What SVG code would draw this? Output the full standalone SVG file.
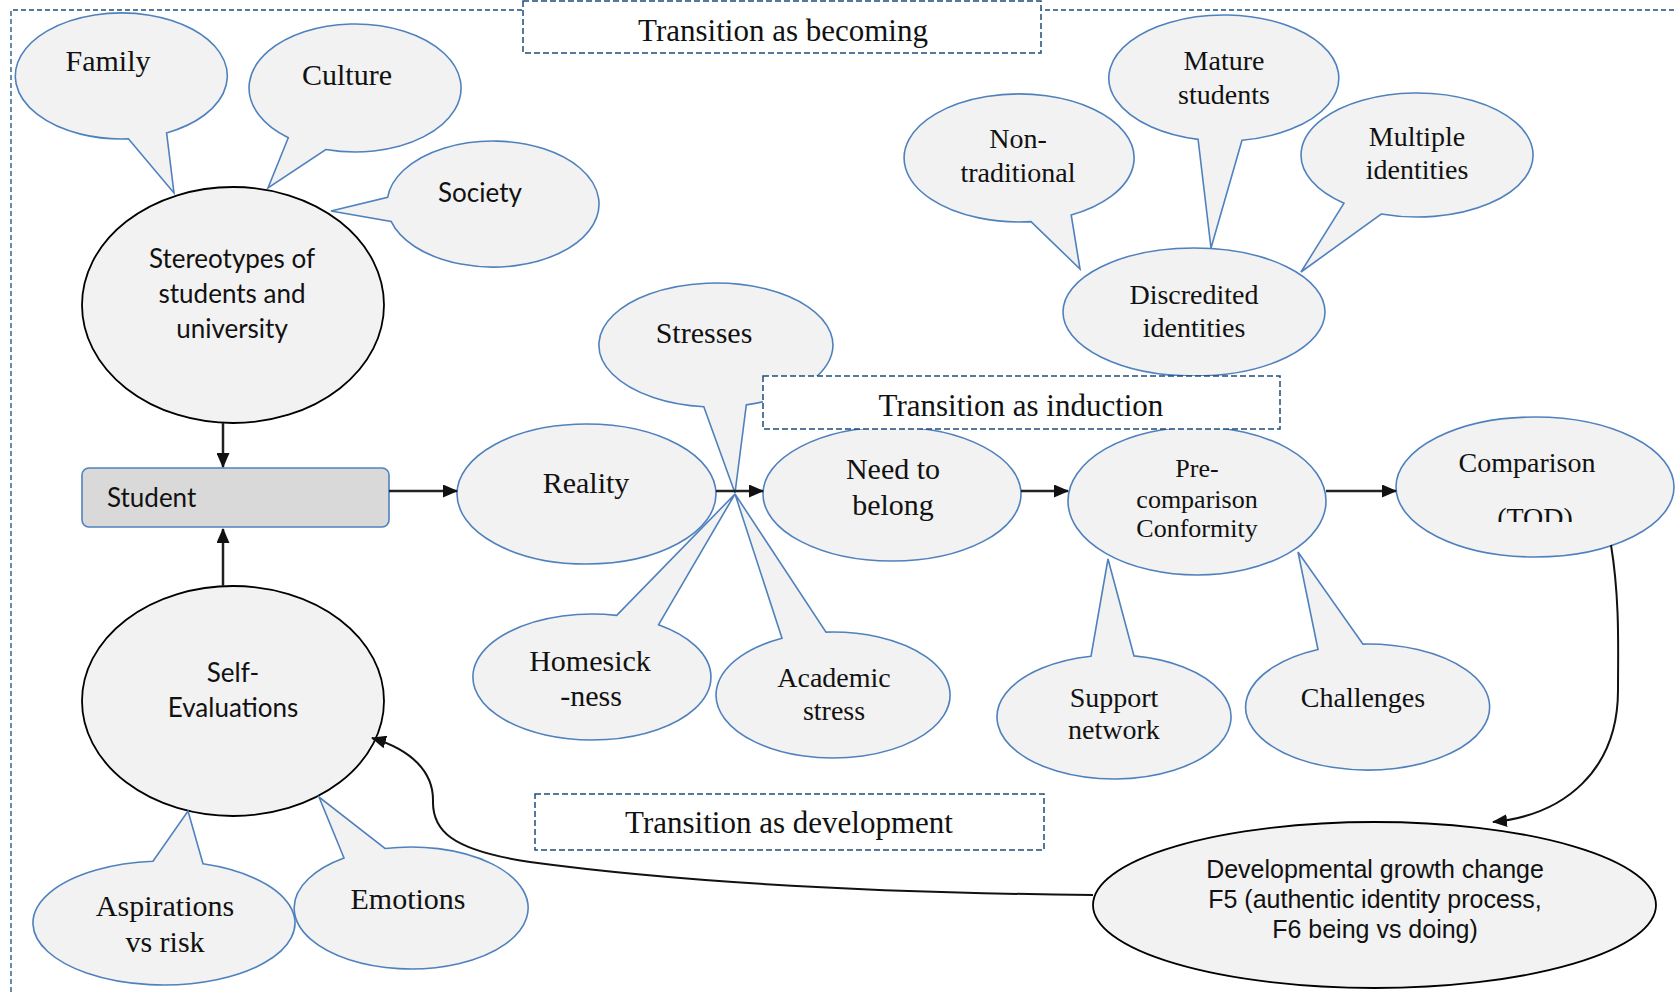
<svg xmlns="http://www.w3.org/2000/svg" width="1675" height="992" viewBox="0 0 1675 992">
<style>
.co{fill:#f2f2f2;stroke:#4f81bd;stroke-width:1.6}
.bk{fill:#f2f2f2;stroke:#000;stroke-width:1.8}
.ser{font-family:"Liberation Serif","Times New Roman",serif;fill:#111;text-anchor:middle}
.sans{font-family:Lato,"Liberation Sans",sans-serif;fill:#111;text-anchor:middle}
.sansl{font-family:Lato,"Liberation Sans",sans-serif;fill:#111;text-anchor:start}
.ari{font-family:"Liberation Sans",Arial,sans-serif;fill:#111;text-anchor:middle}
.box{fill:#fff;stroke:#1f4e79;stroke-width:1.5;stroke-dasharray:6,3}
.arr{fill:none;stroke:#222;stroke-width:2.5}
.cur{fill:none;stroke:#111;stroke-width:2}
</style>
<defs>
<marker id="ah" markerUnits="userSpaceOnUse" markerWidth="15" markerHeight="13" refX="14" refY="6.5" orient="auto">
<path d="M0,0 L15,6.5 L0,13 Z" fill="#111"/>
</marker>
<clipPath id="todclip"><rect x="1400" y="420" width="275" height="102"/></clipPath>
</defs>

<path d="M11,992 V10 H1675" fill="none" stroke="#1f4e79" stroke-width="1.3" stroke-dasharray="5,3"/>

<g id="family"><path class="co" d="M128.4,138.8 A106,63 0 1 1 166.6,132.9 L174,193 Z"/><text class="ser" x="108" y="71" font-size="30">Family</text></g>
<g id="culture"><path class="co" d="M288.3,137.7 A106,64 0 1 1 325.8,149.5 L268,188 Z"/><text class="ser" x="347" y="85" font-size="30">Culture</text></g>
<g id="society"><path class="co" d="M387.6,197.4 A106,63 0 1 1 391.1,221.4 L331,211 Z"/><text class="sans" x="480" y="202" font-size="26">Society</text></g>
<g id="stereotypes"><ellipse class="bk" cx="233" cy="305" rx="151" ry="118"/><text class="sans" x="232" y="268" font-size="26">Stereotypes of</text><text class="sans" x="232" y="303" font-size="26">students and</text><text class="sans" x="232" y="338" font-size="26">university</text></g>
<g id="student"><rect x="82" y="468" width="307" height="59" rx="7" fill="#d9d9d9" stroke="#4f81bd" stroke-width="1.6"/><text class="sansl" x="107" y="507" font-size="26">Student</text></g>
<g id="self-evaluations"><ellipse class="bk" cx="233" cy="701" rx="151" ry="115"/><text class="sans" x="233" y="682" font-size="26">Self-</text><text class="sans" x="233" y="717" font-size="26">Evaluations</text></g>
<g id="aspirations"><path class="co" d="M203,863.8 A131,62 0 1 1 153,861.2 L188,811 Z"/><text class="ser" x="165" y="916" font-size="30">Aspirations</text><text class="ser" x="165" y="952" font-size="30">vs risk</text></g>
<g id="emotions"><path class="co" d="M385,848.5 A117,61 0 1 1 344,858 L319,797 Z"/><text class="ser" x="408" y="909" font-size="30">Emotions</text></g>
<g id="reality"><ellipse class="co" cx="586.5" cy="494" rx="129.5" ry="70"/><text class="ser" x="586" y="493" font-size="30">Reality</text></g>
<g id="stresses"><path class="co" d="M703.8,406.7 A117,62 0 1 1 746.3,404.9 L735,493 Z"/><text class="ser" x="704" y="343" font-size="30">Stresses</text></g>
<g id="homesickness"><path class="co" d="M658.5,624.8 A119,63 0 1 1 616.7,615.4 L735,494 Z"/><text class="ser" x="590" y="671" font-size="30">Homesick</text><text class="ser" x="591" y="706" font-size="30">-ness</text></g>
<g id="academic-stress"><path class="co" d="M826,632.1 A117,63 0 1 1 782,638.3 L735,494 Z"/><text class="ser" x="834" y="687" font-size="28">Academic</text><text class="ser" x="834" y="720" font-size="28">stress</text></g>
<g id="need-to-belong"><ellipse class="co" cx="892" cy="494" rx="129" ry="67"/><text class="ser" x="893" y="479" font-size="30">Need to</text><text class="ser" x="893" y="515" font-size="30">belong</text></g>
<g id="pre-comparison"><ellipse class="co" cx="1197" cy="501" rx="129" ry="74"/><text class="ser" x="1197" y="477" font-size="26">Pre-</text><text class="ser" x="1197" y="508" font-size="26">comparison</text><text class="ser" x="1197" y="537" font-size="26">Conformity</text></g>
<g id="comparison"><ellipse class="co" cx="1535" cy="487" rx="139" ry="70"/><text class="ser" x="1527" y="472" font-size="28">Comparison</text><text class="ser" x="1535" y="527" font-size="28" clip-path="url(#todclip)">(TOD)</text></g>
<g id="support-network"><path class="co" d="M1134,655.9 A117,62 0 1 1 1091,656.2 L1108,559 Z"/><text class="ser" x="1114" y="707" font-size="28">Support</text><text class="ser" x="1114" y="739" font-size="28">network</text></g>
<g id="challenges"><path class="co" d="M1363,644.1 A122,63 0 1 1 1318,649.5 L1298,552 Z"/><text class="ser" x="1363" y="707" font-size="28">Challenges</text></g>
<g id="non-traditional"><path class="co" d="M1031,221.6 A115,64 0 1 1 1071.2,215 L1080,269 Z"/><text class="ser" x="1018" y="148" font-size="28">Non-</text><text class="ser" x="1018" y="182" font-size="28">traditional</text></g>
<g id="mature-students"><path class="co" d="M1198.1,139.4 A115,63 0 1 1 1242,140.2 L1211,248 Z"/><text class="ser" x="1224" y="70" font-size="28">Mature</text><text class="ser" x="1224" y="104" font-size="28">students</text></g>
<g id="multiple-identities"><path class="co" d="M1344,203.2 A116,62 0 1 1 1381.2,214 L1301,272 Z"/><text class="ser" x="1417" y="146" font-size="28">Multiple</text><text class="ser" x="1417" y="179" font-size="28">identities</text></g>
<g id="discredited-identities"><ellipse class="co" cx="1194" cy="312" rx="131" ry="64"/><text class="ser" x="1194" y="304" font-size="28">Discredited</text><text class="ser" x="1194" y="337" font-size="28">identities</text></g>
<g id="developmental"><ellipse class="bk" cx="1374.5" cy="905" rx="281.5" ry="83"/><text class="ari" x="1375" y="878" font-size="25">Developmental growth change</text><text class="ari" x="1375" y="908" font-size="25">F5 (authentic identity process,</text><text class="ari" x="1375" y="938" font-size="25">F6 being vs doing)</text></g>

<g id="connectors">
<line class="arr" x1="223" y1="423" x2="223" y2="467" marker-end="url(#ah)"/>
<line class="arr" x1="223" y1="586" x2="223" y2="529" marker-end="url(#ah)"/>
<line class="arr" x1="389" y1="491" x2="457" y2="491" marker-end="url(#ah)"/>
<line class="arr" x1="716" y1="491" x2="763" y2="491" marker-end="url(#ah)"/>
<line class="arr" x1="1021" y1="491" x2="1068" y2="491" marker-end="url(#ah)"/>
<line class="arr" x1="1326" y1="491" x2="1396" y2="491" marker-end="url(#ah)"/>
<path class="cur" d="M1611,545 C1620,600 1618,650 1618,690 C1618,770 1565,815 1493,822" marker-end="url(#ah)"/>
<path class="cur" d="M1093,895 C900,893 700,885 530,862 C450,850 432,830 433,800 C433,772 412,750 372,738" marker-end="url(#ah)"/>
</g>

<g id="label-becoming"><rect class="box" x="523" y="1" width="518" height="52"/><text class="ser" x="783" y="41" font-size="31">Transition as becoming</text></g>
<g id="label-induction"><rect class="box" x="763" y="376" width="517" height="53"/><text class="ser" x="1021" y="416" font-size="31">Transition as induction</text></g>
<g id="label-development"><rect class="box" x="535" y="794" width="509" height="56"/><text class="ser" x="789" y="833" font-size="31">Transition as development</text></g>
</svg>
